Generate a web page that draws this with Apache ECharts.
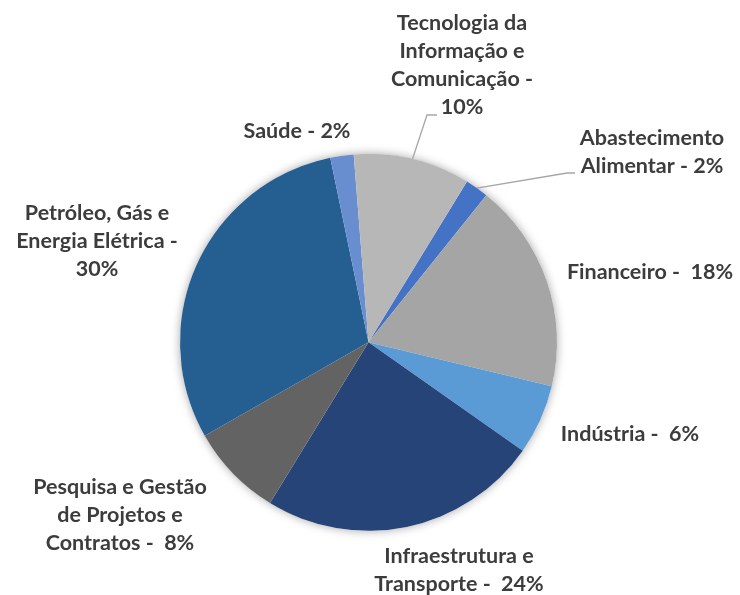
<!DOCTYPE html>
<html>
<head>
<meta charset="utf-8">
<script src="https://cdn.jsdelivr.net/npm/echarts@6/dist/echarts.min.js"></script>
<style>
  html, body { margin: 0; padding: 0; background: #fff; }
  #chart { width: 740px; height: 595px; }
</style>
</head>
<body>
<div id="chart"></div>
<script>
// Sector names (alphabetical, drawn clockwise)
const categories = [
  'Abastecimento Alimentar',
  'Financeiro',
  'Indústria',
  'Infraestrutura e Transporte',
  'Pesquisa e Gestão de Projetos e Contratos',
  'Petróleo, Gás e Energia Elétrica',
  'Saúde',
  'Tecnologia da Informação e Comunicação'
];

// Share of each sector, in percent
const shares = [2, 18, 6, 24, 8, 30, 2, 10];

// Label text with line breaks; {v} is replaced by the share
const labelTemplates = [
  'Abastecimento\nAlimentar - {v}%',
  'Financeiro -  {v}%',
  'Indústria -  {v}%',
  'Infraestrutura e\nTransporte -  {v}%',
  'Pesquisa e Gestão\nde Projetos e\nContratos -  {v}%',
  'Petróleo, Gás e\nEnergia Elétrica -\n{v}%',
  'Saúde - {v}%',
  'Tecnologia da\nInformação e\nComunicação -\n{v}%'
];

// Office-style palette
const colors = ['#4472C4', '#A5A5A5', '#5B9BD5', '#264478', '#636363', '#255E91', '#698ED0', '#B7B7B7'];

// Label block centres (px)
const labelPos = [
  [652, 152], [650, 272], [630, 434], [459, 570],
  [120, 515], [97, 241], [297, 131], [462, 65]
];
// Leader line elbows for the labels that have one: [elbow, end]
const leaderEnds = {
  0: [[567, 173], [575, 173]],
  7: [[427, 115], [437, 115]]
};

const CENTER = [368.5, 342.3];
const RADIUS = 188.5;

const chart = echarts.init(document.getElementById('chart'), null, { renderer: 'canvas' });

chart.setOption({
  animation: false,
  backgroundColor: '#ffffff',
  series: [
    {
      // soft drop shadow behind the whole pie
      type: 'pie',
      silent: true,
      z: 1,
      center: CENTER,
      radius: RADIUS,
      label: { show: false },
      labelLine: { show: false },
      itemStyle: {
        color: '#ffffff',
        shadowBlur: 10,
        shadowColor: 'rgba(0,0,0,0.35)'
      },
      data: [{ value: 1 }]
    },
    {
      type: 'pie',
      z: 2,
      center: CENTER,
      radius: RADIUS,
      startAngle: 58.5,
      clockwise: true,
      avoidLabelOverlap: false,
      itemStyle: { borderWidth: 0 },
      label: {
        show: true,
        position: 'outside',
        color: '#3c3c3c',
        fontFamily: 'Lato',
        fontWeight: 'bold',
        fontSize: 21.5,
        lineHeight: 28,
        align: 'center',
        formatter: p => labelTemplates[p.dataIndex].replace('{v}', p.value)
      },
      labelLine: {
        show: false,
        length: 20,
        length2: 10,
        lineStyle: { color: '#A6A6A6', width: 1.3 }
      },
      labelLayout: function (params) {
        const i = params.dataIndex;
        const pos = labelPos[i];
        const out = {
          x: pos[0],
          y: pos[1],
          align: 'center',
          verticalAlign: 'middle'
        };
        if (leaderEnds[i]) {
          let anchor = params.labelLinePoints && params.labelLinePoints[0];
          if (!anchor) {
            // fall back to the arc midpoint of the sector
            let before = 0;
            for (let k = 0; k < i; k++) before += shares[k];
            const total = shares.reduce((a, b) => a + b, 0);
            const mid = (58.5 - (before + shares[i] / 2) / total * 360) * Math.PI / 180;
            anchor = [CENTER[0] + RADIUS * Math.cos(mid), CENTER[1] - RADIUS * Math.sin(mid)];
          }
          out.labelLinePoints = [anchor, leaderEnds[i][0], leaderEnds[i][1]];
        }
        return out;
      },
      data: categories.map((name, i) => ({
        name: name,
        value: shares[i],
        itemStyle: { color: colors[i] },
        labelLine: { show: !!leaderEnds[i] }
      }))
    }
  ]
});
</script>
</body>
</html>
